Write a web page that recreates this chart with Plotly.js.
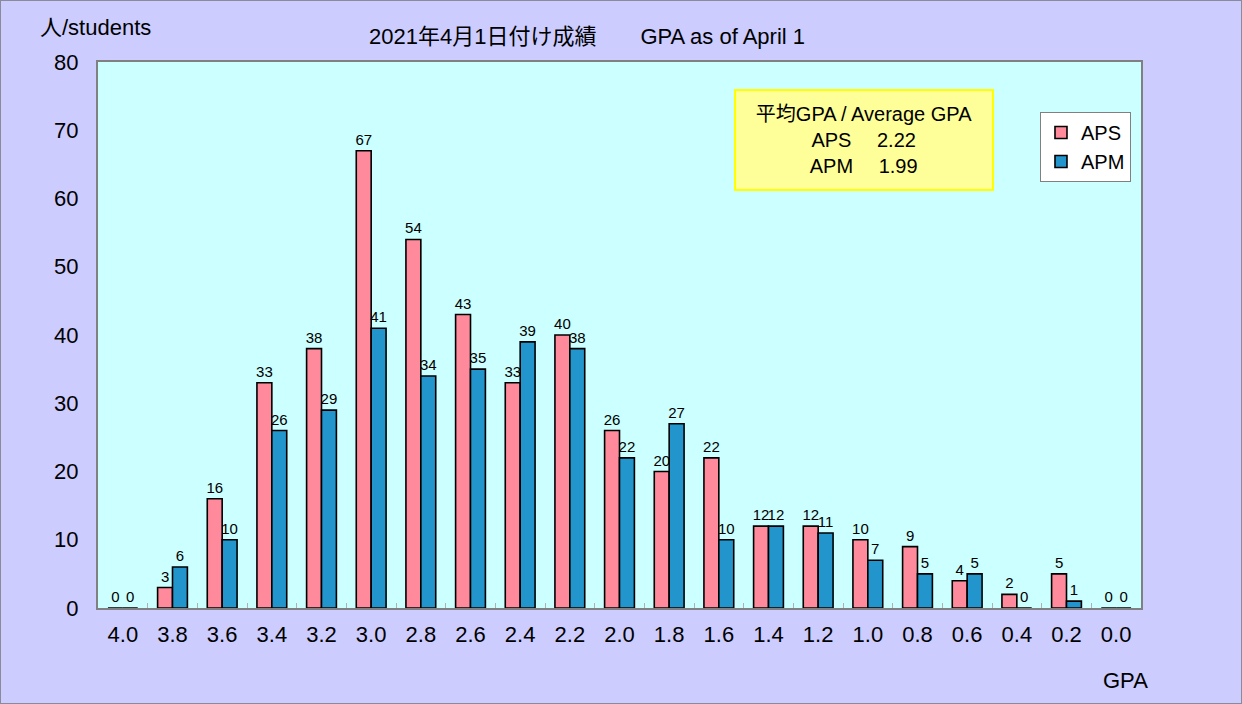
<!DOCTYPE html>
<html>
<head>
<meta charset="utf-8">
<script src="https://cdn.plot.ly/plotly-3.0.1.min.js"></script>
<style>
html,body{margin:0;padding:0;background:#ccccff;}
#chart{width:1242px;height:704px;box-sizing:border-box;border:1px solid #8a8a9a;}
</style>
</head>
<body>
<div id="chart"></div>
<script>
const categories = ["4.0","3.8","3.6","3.4","3.2","3.0","2.8","2.6","2.4","2.2","2.0","1.8","1.6","1.4","1.2","1.0","0.8","0.6","0.4","0.2","0.0"];
const apsValues = [0,3,16,33,38,67,54,43,33,40,26,20,22,12,12,10,9,4,2,5,0];
const apmValues = [0,6,10,26,29,41,34,35,39,38,22,27,10,12,11,7,5,5,0,1,0];
const seriesNames = ["APS","APM"];
const titleText = "2021年4月1日付け成績\u3000\u3000GPA as of April 1";
const yLabel = "人/students";
const xLabel = "GPA";
const avgText = "平均GPA / Average GPA<br>APS\u3000 2.22<br>APM\u3000 1.99";

const FONT = "Liberation Sans, Arial, Noto Sans CJK JP, sans-serif";

const traces = [
  {type:"bar", name:seriesNames[0], x:categories, y:apsValues, text:apsValues.map(String),
   textposition:"outside", constraintext:"none", cliponaxis:false,
   textfont:{size:15,color:"#000",family:FONT},
   marker:{color:"#ff8a9c", line:{color:"#000",width:1.6}}, legendgroup:"a"},
  {type:"bar", name:seriesNames[1], x:categories, y:apmValues, text:apmValues.map(String),
   textposition:"outside", constraintext:"none", cliponaxis:false,
   textfont:{size:15,color:"#000",family:FONT},
   marker:{color:"#2296cc", line:{color:"#000",width:1.6}}, legendgroup:"b"}
];

const layout = {
  width:1240, height:702,
  paper_bgcolor:"#ccccff", plot_bgcolor:"#ccffff",
  margin:{l:97,r:100,t:61,b:95},
  font:{family:FONT,size:22,color:"#000"},
  barmode:"group", bargap:0.4, bargroupgap:0,
  title:{text:titleText, font:{size:22}, xref:"container", yref:"container", x:0.4726, xanchor:"center", y:0.95, yanchor:"middle"},
  xaxis:{type:"category", showline:true, mirror:true, linecolor:"#808080", linewidth:2,
    ticks:"inside", tickson:"boundaries", ticklen:5, tickcolor:"#b0b0b0", tickwidth:1,
    ticklabelstandoff:6, tickfont:{size:22}, showgrid:false, zeroline:false, fixedrange:true},
  yaxis:{range:[0,80], dtick:10, showline:true, mirror:true, linecolor:"#808080", linewidth:2,
    ticks:"", ticklabelstandoff:13, tickfont:{size:22}, showgrid:false, zeroline:false, fixedrange:true},
  showlegend:true,
  legend:{x:0.9904, y:0.9084, xanchor:"right", yanchor:"top", bgcolor:"#ffffff",
    bordercolor:"#808080", borderwidth:1, font:{size:20}, tracegroupgap:0, itemwidth:30},
  annotations:[
    {text:yLabel, xref:"paper", yref:"paper", x:-0.0575, y:1.0623, xanchor:"left", yanchor:"middle", showarrow:false, font:{size:22}},
    {text:xLabel, xref:"paper", yref:"paper", x:0.9847, y:-0.1319, xanchor:"center", yanchor:"middle", showarrow:false, font:{size:22}},
    {text:avgText, xref:"paper", yref:"paper", x:0.7344, y:0.857, xanchor:"center", yanchor:"middle", showarrow:false,
     font:{size:20}, bgcolor:"#ffff99", bordercolor:"#ffff00", borderwidth:2, width:254, height:96, align:"center"}
  ]
};

Plotly.newPlot("chart", traces, layout, {displayModeBar:false, staticPlot:true});
</script>
</body>
</html>
